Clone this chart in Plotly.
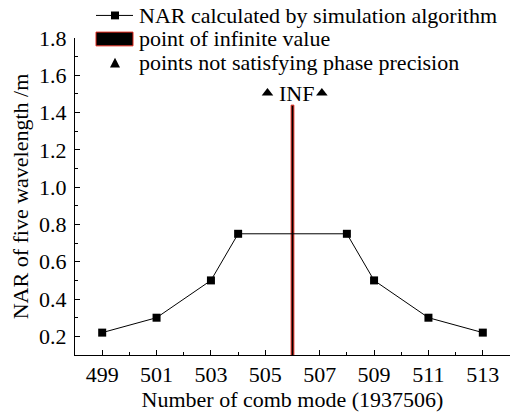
import plotly.graph_objects as go

# Data
modes = [499, 501, 503, 504, 508, 509, 511, 513]
nar = [0.22, 0.30, 0.50, 0.75, 0.75, 0.50, 0.30, 0.22]
inf_mode = [506]
inf_value = [1.44]
bad_modes = [505.08, 507.08]
bad_values = [1.505, 1.505]
x_ticks = [499, 501, 503, 505, 507, 509, 511, 513]
y_ticks = [0.2, 0.4, 0.6, 0.8, 1.0, 1.2, 1.4, 1.6, 1.8]
legend_labels = ["NAR calculated by simulation algorithm",
                 "point of infinite value",
                 "points not satisfying phase precision"]

FONT = "'Liberation Serif', 'DejaVu Serif', 'Times New Roman', Times, serif"
FS = 22
W, H = 526, 418
ML, MR, MT, MB = 75, 16, 38, 57
PW, PH = W - ML - MR, H - MT - MB


def px(x):
    return (x - ML) / PW


def py(y):
    return (H - MB - y) / PH


fig = go.Figure()
fig.add_trace(go.Scatter(
    x=modes, y=nar, mode="lines+markers",
    name=legend_labels[0],
    line=dict(color="black", width=1),
    marker=dict(symbol="square", size=8, color="black"),
    showlegend=False,
))
fig.add_trace(go.Bar(
    x=inf_mode, y=inf_value, width=0.1,
    name=legend_labels[1],
    marker=dict(color="black", line=dict(color="#e0281c", width=1)),
    showlegend=False,
))
fig.add_trace(go.Scatter(
    x=bad_modes, y=bad_values, mode="markers",
    name=legend_labels[2],
    marker=dict(symbol="triangle-up", size=10, color="black"),
    showlegend=False,
))

fig.add_annotation(x=506.14, y=1.50, text="INF", showarrow=False,
                   font=dict(family=FONT, size=FS, color="black"),
                   xanchor="center", yanchor="middle")

# Hand-drawn legend (layout decoration in paper coordinates)
rows_y = [15, 39, 63]
sym_x0, sym_x1, sym_xc = 96, 133, 115
shapes = []
shapes.append(dict(type="line", xref="paper", yref="paper",
                   x0=px(sym_x0), x1=px(sym_x1), y0=py(rows_y[0]), y1=py(rows_y[0]),
                   line=dict(color="black", width=1)))
shapes.append(dict(type="rect", xref="paper", yref="paper",
                   x0=px(sym_xc - 4), x1=px(sym_xc + 4), y0=py(rows_y[0] - 4), y1=py(rows_y[0] + 4),
                   fillcolor="black", line=dict(width=0)))
shapes.append(dict(type="rect", xref="paper", yref="paper",
                   x0=px(sym_x0), x1=px(sym_x1), y0=py(rows_y[1] - 7), y1=py(rows_y[1] + 7),
                   fillcolor="black", line=dict(color="#e0281c", width=1)))
tx, ty = px(sym_xc), py(rows_y[2])
dx, dy = 5 / PW, 5 / PH
shapes.append(dict(type="path", xref="paper", yref="paper",
                   path=f"M {tx - dx} {ty - dy} L {tx + dx} {ty - dy} L {tx} {ty + dy} Z",
                   fillcolor="black", line=dict(width=0)))
for label, ry in zip(legend_labels, rows_y):
    fig.add_annotation(x=px(137), y=py(ry), xref="paper", yref="paper",
                       text=label, showarrow=False, xanchor="left", yanchor="middle",
                       font=dict(family=FONT, size=FS, color="black"))

fig.update_layout(
    width=W, height=H,
    margin=dict(l=ML, r=MR, t=MT, b=MB),
    paper_bgcolor="white", plot_bgcolor="white",
    font=dict(family=FONT, size=FS, color="black"),
    showlegend=False,
    shapes=shapes,
)
fig.update_xaxes(
    range=[498, 514], tickvals=x_ticks, ticktext=[str(v) for v in x_ticks],
    showline=True, linecolor="black", linewidth=1, mirror=False,
    ticks="inside", ticklen=5, tickcolor="black",
    minor=dict(dtick=1, tick0=498, ticks="inside", ticklen=3, tickcolor="black"),
    showgrid=False, zeroline=False,
    title=dict(text="Number of comb mode (1937506)", font=dict(family=FONT, size=FS), standoff=3),
)
fig.update_yaxes(
    range=[0.1, 1.8], tickvals=y_ticks, ticktext=[f"{v:.1f}" for v in y_ticks],
    showline=True, linecolor="black", linewidth=1, mirror=False,
    ticks="inside", ticklen=5, tickcolor="black", ticklabelstandoff=3,
    minor=dict(dtick=0.1, tick0=0.1, ticks="inside", ticklen=3, tickcolor="black"),
    showgrid=False, zeroline=False,
    title=dict(text="NAR of five wavelength /m", font=dict(family=FONT, size=FS), standoff=4),
)

fig.write_html("out.html")
